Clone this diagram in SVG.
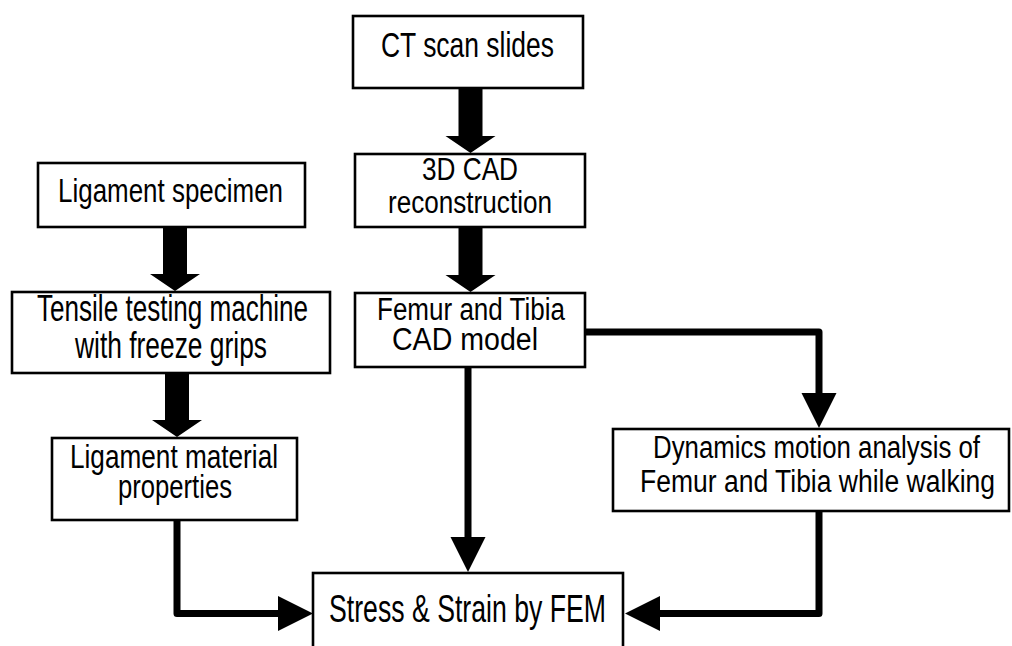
<svg xmlns="http://www.w3.org/2000/svg" width="1012" height="646" viewBox="0 0 1012 646">
<style>
.box{fill:#fff;stroke:#000;stroke-width:2.6}
.t{font-family:"Liberation Sans Narrow","Liberation Sans",Arial,sans-serif;fill:#000;text-anchor:middle}
.fat{fill:#000;stroke:none}
.ln{fill:none;stroke:#000;stroke-width:7;stroke-linejoin:round}
.hd{fill:#000;stroke:none}
</style>
<rect width="1012" height="646" fill="#fff"/>
<g id="connectors">
<polygon class="fat" points="458.5,89 482.5,89 482.5,136 495.5,136 470.5,153 445.5,136 458.5,136"/>
<polygon class="fat" points="458.5,227 482.5,227 482.5,275 495.5,275 470.5,292 445.5,275 458.5,275"/>
<polygon class="fat" points="163,227 187,227 187,274 200,274 175,291 150,274 163,274"/>
<polygon class="fat" points="165,373 189,373 189,420 202,420 177,437 152,420 165,420"/>
<path class="ln" d="M177,520 V613.5 H281"/>
<polygon class="hd" points="278,596 278,631 313,613.5"/>
<path class="ln" d="M468,367 V540"/>
<polygon class="hd" points="450.5,537 485.5,537 468,572"/>
<path class="ln" d="M585,332 H819 V396"/>
<polygon class="hd" points="801.5,393 836.5,393 819,428"/>
<path class="ln" d="M819,511 V613.5 H657"/>
<polygon class="hd" points="660,596 660,631 625,613.5"/>
</g>
<g id="ct">
<rect class="box" x="353" y="16" width="230" height="72"/>
<text class="t" x="467.5" y="57" font-size="35" textLength="173" lengthAdjust="spacingAndGlyphs">CT scan slides</text>
</g>
<g id="cad3d">
<rect class="box" x="355" y="154" width="230" height="73"/>
<text class="t" x="470" y="180" font-size="31" textLength="96" lengthAdjust="spacingAndGlyphs">3D CAD</text>
<text class="t" x="470" y="213" font-size="31" textLength="164" lengthAdjust="spacingAndGlyphs">reconstruction</text>
</g>
<g id="femur">
<rect class="box" x="355" y="293" width="230" height="74"/>
<text class="t" x="471" y="320" font-size="31" textLength="188" lengthAdjust="spacingAndGlyphs">Femur and Tibia</text>
<text class="t" x="465" y="350" font-size="31" textLength="146" lengthAdjust="spacingAndGlyphs">CAD model</text>
</g>
<g id="ligspec">
<rect class="box" x="38" y="163" width="267" height="64"/>
<text class="t" x="170.5" y="202" font-size="34" textLength="225" lengthAdjust="spacingAndGlyphs">Ligament specimen</text>
</g>
<g id="tensile">
<rect class="box" x="12" y="292" width="318" height="81"/>
<text class="t" x="172.5" y="321" font-size="36" textLength="271" lengthAdjust="spacingAndGlyphs">Tensile testing machine</text>
<text class="t" x="171" y="358" font-size="36" textLength="192" lengthAdjust="spacingAndGlyphs">with freeze grips</text>
</g>
<g id="ligmat">
<rect class="box" x="52" y="438" width="245" height="82"/>
<text class="t" x="174" y="468" font-size="34" textLength="208" lengthAdjust="spacingAndGlyphs">Ligament material</text>
<text class="t" x="175" y="498" font-size="34" textLength="114" lengthAdjust="spacingAndGlyphs">properties</text>
</g>
<g id="dynamics">
<rect class="box" x="613" y="429" width="396" height="82"/>
<text class="t" x="816.5" y="458" font-size="31" textLength="327" lengthAdjust="spacingAndGlyphs">Dynamics motion analysis of</text>
<text class="t" x="817.5" y="492" font-size="31" textLength="355" lengthAdjust="spacingAndGlyphs">Femur and Tibia while walking</text>
</g>
<g id="fem">
<rect class="box" x="313" y="573" width="310" height="90"/>
<text class="t" x="467.5" y="622" font-size="39" textLength="277" lengthAdjust="spacingAndGlyphs">Stress &amp; Strain by FEM</text>
</g>
</svg>
